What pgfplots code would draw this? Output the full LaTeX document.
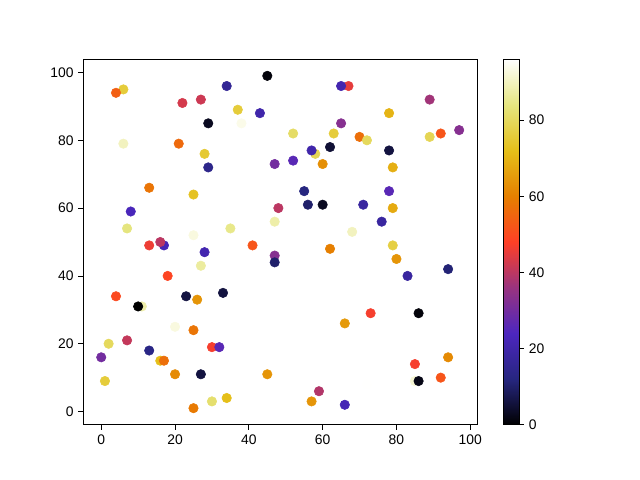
\documentclass[border=0pt]{standalone}
\usepackage{pgfplots}
\pgfplotsset{compat=1.18}
\usepackage{fontspec}
\setmainfont{Liberation Sans}
\begin{document}
\begin{tikzpicture}
\path[use as bounding box] (0,0) rectangle (460.8pt,345.6pt);
\begin{axis}[
  at={(60pt,39.75pt)}, anchor=south west,
  scale only axis, width=283.5pt, height=263.2pt,
  xmin=-4.85, xmax=101.85, ymin=-3.9, ymax=103.9,
  xtick={0,20,...,100}, ytick={0,20,...,100},
  tick align=outside, xtick pos=bottom, ytick pos=left,
  major tick length=3.5pt,
  tick style={black, line width=0.6pt},
  axis line style={line width=0.6pt},
  tick label style={font=\fontsize{10}{12}\selectfont},
  /pgf/number format/assume math mode=true,
  colormap={cmr}{rgb=(0,0,0) rgb=(0.15,0.15,0.5) rgb=(0.3,0.15,0.75)
    rgb=(0.6,0.2,0.5) rgb=(1,0.25,0.15) rgb=(0.9,0.5,0) rgb=(0.9,0.75,0.1)
    rgb=(0.9,0.9,0.5) rgb=(1,1,1)},
  point meta min=0, point meta max=96,
  colorbar,
  colorbar style={
    at={(parent axis.north east)}, anchor=north west, xshift=10.3pt,
    scale only axis, width=11.4pt, height=263.2pt,
    ytick={0,20,...,80}, ytick pos=right, yticklabel pos=right,
    tick align=outside, major tick length=3.5pt,
    tick style={black, line width=0.6pt},
    axis line style={line width=0.6pt},
    tick label style={font=\fontsize{10}{12}\selectfont},
    /pgf/number format/assume math mode=true,
  },
]
\addplot[scatter, only marks, mark=*, mark size=3.4pt,
  scatter/use mapped color={draw=mapped color, fill=mapped color},
  point meta=explicit] table[meta=c] {
x y c
45 99 1
6 95 76
4 94 54
34 96 16
22 91 43
27 92 42
37 89 76
43 88 20
29 85 3
38 85 94
6 79 90
21 79 56
28 76 75
29 72 14
47 73 30
13 66 58
67 96 45
65 96 21
89 92 37
78 88 70
65 85 33
52 82 81
63 82 76
70 81 57
72 80 80
89 81 79
92 82 52
97 83 33
62 78 5
58 76 79
57 77 20
78 77 6
52 74 26
60 73 63
79 72 69
25 64 73
8 59 23
48 60 40
7 54 84
47 56 88
35 54 85
25 52 93
13 49 46
17 49 22
16 50 40
28 47 21
41 49 52
47 46 33
47 44 10
27 43 87
18 40 49
4 34 50
23 34 6
26 33 64
33 35 6
11 31 88
10 31 0
55 65 12
78 65 26
56 61 10
60 61 3
71 61 18
79 60 68
76 56 18
68 53 90
62 48 60
79 49 77
80 45 64
94 42 11
83 40 18
73 29 47
86 29 1
20 25 93
25 24 58
2 20 80
7 21 41
0 16 30
13 18 13
16 15 72
17 15 57
30 19 47
32 19 26
20 11 62
27 11 6
45 11 64
1 9 76
30 3 82
34 4 72
25 1 59
66 26 65
94 16 62
85 14 47
92 10 52
85 9 92
86 9 2
72 8 96
59 6 39
57 3 64
66 2 22
};
\end{axis}
\end{tikzpicture}
\end{document}
